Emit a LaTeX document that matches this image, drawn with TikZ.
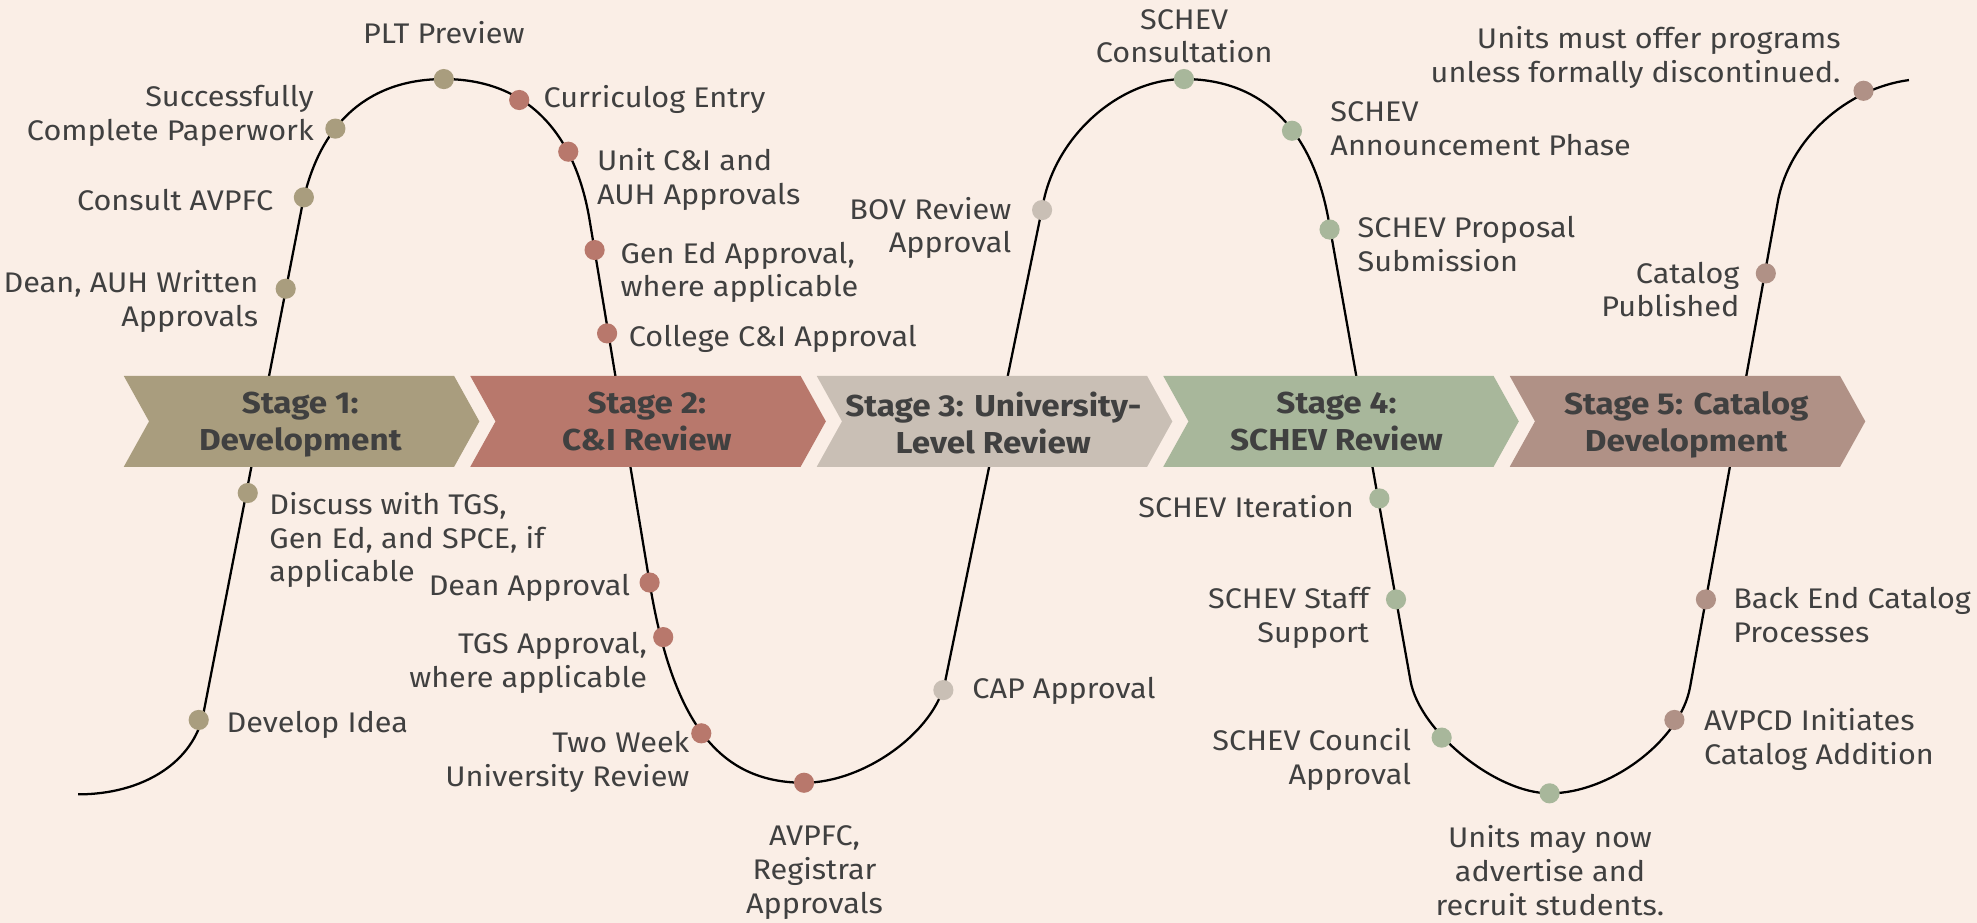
\documentclass[tikz,border=0pt]{standalone}
\usepackage{fontspec}
\setmainfont{Fira Sans}
\newfontfamily\lblfont{Fira Sans}[FakeStretch=1.08]
\newfontfamily\stgfont{Fira Sans}[FakeStretch=1.1]
\definecolor{bg}{HTML}{FAEEE6}
\definecolor{sa}{HTML}{A99D7E}
\definecolor{sb}{HTML}{B8786C}
\definecolor{sc}{HTML}{C9BFB5}
\definecolor{sd}{HTML}{A8B79B}
\definecolor{se}{HTML}{B09186}
\definecolor{txt}{HTML}{404040}
\newcommand\chevron[2]{\fill[#2] (#1,298.2) -- ++(262,0) -- ++(20,36) -- ++(-20,36) -- ++(-262,0) -- ++(20,-36) -- cycle;}
\begin{document}
\begin{tikzpicture}[x=1pt,y=-1pt,
  lbl/.style={inner sep=0pt, text=txt, font=\lblfont\fontsize{22.5}{26.8}\selectfont, execute at begin node=\strut, yshift=9.4pt},
  stg/.style={inner sep=0pt, text=txt, align=center, anchor=north, font=\stgfont\fontsize{24}{29.5}\selectfont\bfseries, execute at begin node=\strut, yshift=9pt},
  dot/.style={circle, inner sep=0pt, minimum size=16pt},
  curve/.style={line width=1.8pt, black}]
\useasboundingbox (0,0) rectangle (1568,732);
\fill[bg] (0,0) rectangle (1568,732);
% wave
\draw[curve] (62,630) .. controls (114.1,630) and (153.9,604) .. (161.5,565)
 -- (239.3,165)
 .. controls (253.2,93.4) and (296.3,62.7) .. (352,62.7)
 .. controls (415.2,62.7) and (455.7,102) .. (467.7,175)
 -- (515.2,462)
 .. controls (533.5,573.2) and (570.3,620.8) .. (637.7,620.8)
 .. controls (685.4,620.8) and (741.4,580.4) .. (749.7,540)
 -- (827.6,160)
 .. controls (838.5,106.5) and (888.7,62.7) .. (939,62.7)
 .. controls (1000.6,62.7) and (1040.8,102) .. (1053.8,175)
 -- (1118.7,540)
 .. controls (1125.9,580.1) and (1186.5,629.2) .. (1229,629.2)
 .. controls (1277.1,629.2) and (1332.8,587.1) .. (1340.4,545)
 -- (1410,160)
 .. controls (1419,110) and (1465,70) .. (1514,63.5);
% chevrons
\chevron{98.2}{sa}
\chevron{373}{sb}
\chevron{647.8}{sc}
\chevron{922.6}{sd}
\chevron{1197.4}{se}
\node[stg] (s1) at (238.2,319.4) {Stage 1:\\Development};
\node[stg] (s2) at (513,319.4) {Stage 2:\\C\&I Review};
\node[stg] (s3) at (787.8,319.4) {Stage 3: University-\\Level Review};
\node[stg] (s4) at (1060,319.4) {Stage 4:\\SCHEV Review};
\node[stg] (s5) at (1337.4,319.4) {Stage 5: Catalog\\Development};
% dots
\node[dot, fill=sa] (d1) at (157.6,571) {};
\node[dot, fill=sa] (d2) at (196.5,391) {};
\node[dot, fill=sa] (d3) at (226.6,229) {};
\node[dot, fill=sa] (d4) at (241,156.5) {};
\node[dot, fill=sa] (d5) at (266,102) {};
\node[dot, fill=sa] (d6) at (352,62.7) {};
\node[dot, fill=sb] (d7) at (411.8,79.3) {};
\node[dot, fill=sb] (d8) at (450.7,120.3) {};
\node[dot, fill=sb] (d9) at (471.6,198.3) {};
\node[dot, fill=sb] (d10) at (481.5,264.4) {};
\node[dot, fill=sb] (d11) at (515.2,462) {};
\node[dot, fill=sb] (d12) at (526,505.3) {};
\node[dot, fill=sb] (d13) at (556.2,581.6) {};
\node[dot, fill=sb] (d14) at (637.7,620.8) {};
\node[dot, fill=sc] (d15) at (748.2,547.3) {};
\node[dot, fill=sc] (d16) at (826.5,166.6) {};
\node[dot, fill=sd] (d17) at (939,62.7) {};
\node[dot, fill=sd] (d18) at (1024.7,103.7) {};
\node[dot, fill=sd] (d19) at (1054.5,182) {};
\node[dot, fill=sd] (d20) at (1094,395.3) {};
\node[dot, fill=sd] (d21) at (1107.2,475.4) {};
\node[dot, fill=sd] (d22) at (1143.4,585) {};
\node[dot, fill=sd] (d23) at (1229,629.2) {};
\node[dot, fill=se] (d24) at (1328,571) {};
\node[dot, fill=se] (d25) at (1353,475.4) {};
\node[dot, fill=se] (d26) at (1400.5,216.8) {};
\node[dot, fill=se] (d27) at (1478,72) {};
% labels
\node[lbl, anchor=north] (t6) at (352,25) {PLT Preview};
\node[lbl, anchor=north east, align=right] (t5) at (249,77) {Successfully\\Complete Paperwork};
\node[lbl, anchor=north east] (t4) at (217,157) {Consult AVPFC};
\node[lbl, anchor=north east, align=right] (t3) at (205,224) {Dean, AUH Written\\Approvals};
\node[lbl, anchor=north west, align=left] (t2) at (213.5,399.5) {Discuss with TGS,\\Gen Ed, and SPCE, if\\applicable};
\node[lbl, anchor=north west] (t1) at (179.5,571) {Develop Idea};
\node[lbl, anchor=north west] (t7) at (431,76) {Curriculog Entry};
\node[lbl, anchor=north west, align=left] (t8) at (473.4,127) {Unit C\&I and\\AUH Approvals};
\node[lbl, anchor=north west, align=left] (t9) at (492,201) {Gen Ed Approval,\\where applicable};
\node[lbl, anchor=north west] (t10) at (498.6,265.3) {College C\&I Approval};
\node[lbl, anchor=north east] (t11) at (500,463) {Dean Approval};
\node[lbl, anchor=north east, align=right] (t12) at (513.4,511) {TGS Approval,\\where applicable};
\node[lbl, anchor=north east, align=right] (t13) at (547,589.5) {Two Week\\University Review};
\node[lbl, anchor=north, align=center] (t14) at (646,664) {AVPFC,\\Registrar\\Approvals};
\node[lbl, anchor=north west] (t15) at (771,544.5) {CAP Approval};
\node[lbl, anchor=north east, align=right] (t16) at (802.3,165.5) {BOV Review\\Approval};
\node[lbl, anchor=north, align=center] (t17) at (939.2,16.5) {SCHEV\\Consultation};
\node[lbl, anchor=north west, align=left] (t18) at (1055,90) {SCHEV\\Announcement Phase};
\node[lbl, anchor=north west, align=left] (t19) at (1076.6,181) {SCHEV Proposal\\Submission};
\node[lbl, anchor=north east] (t20) at (1074,400.5) {SCHEV Iteration};
\node[lbl, anchor=north east, align=right] (t21) at (1086,475) {SCHEV Staff\\Support};
\node[lbl, anchor=north east, align=right] (t22) at (1119.4,587) {SCHEV Council\\Approval};
\node[lbl, anchor=north, align=center] (t23) at (1229.3,664) {Units may now\\advertise and\\recruit students.};
\node[lbl, anchor=north west, align=left] (t24) at (1351.3,571) {AVPCD Initiates\\Catalog Addition};
\node[lbl, anchor=north west, align=left] (t25) at (1374.5,475.3) {Back End Catalog\\Processes};
\node[lbl, anchor=north east, align=right] (t26) at (1379.7,216.8) {Catalog\\Published};
\node[lbl, anchor=north east, align=right] (t27) at (1460,30) {Units must offer programs\\unless formally discontinued.};
\end{tikzpicture}
\end{document}
